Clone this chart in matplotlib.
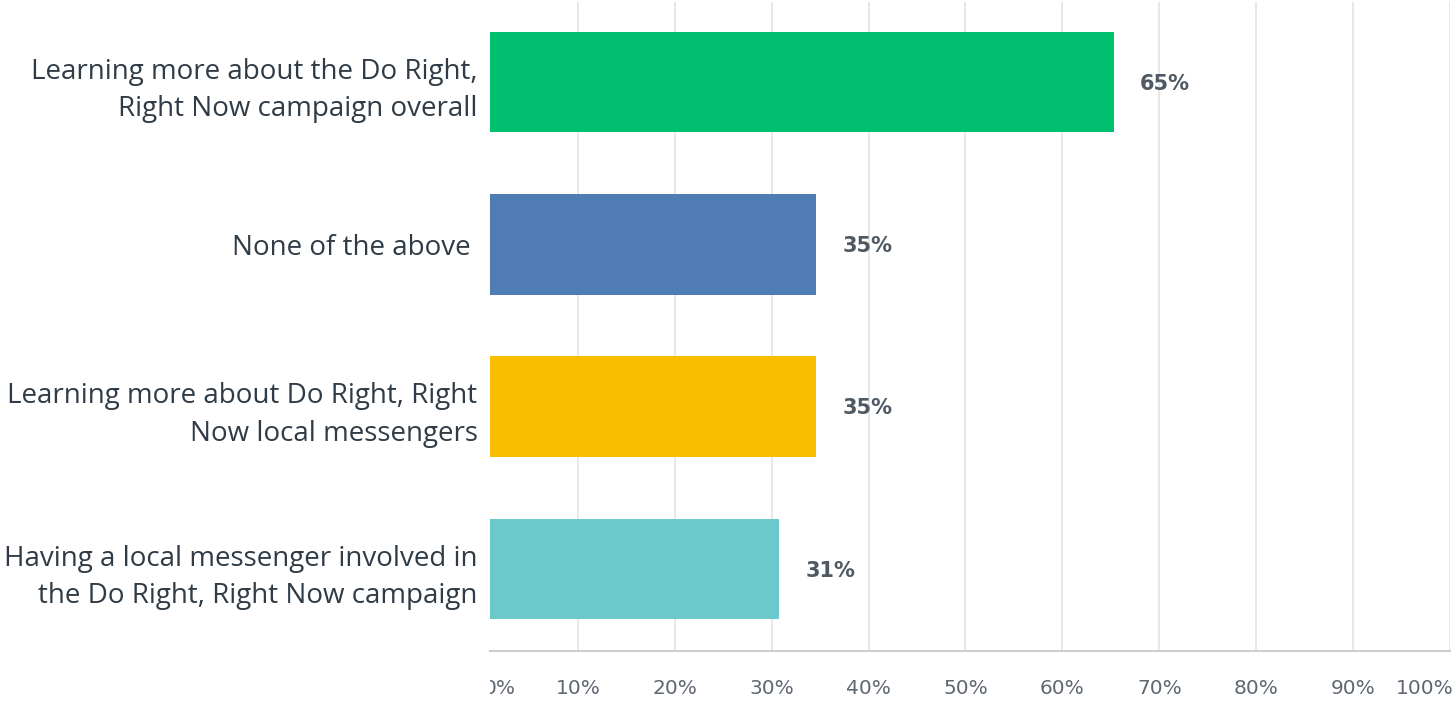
import matplotlib
matplotlib.use("Agg")
import matplotlib.pyplot as plt
from matplotlib.transforms import Bbox, blended_transform_factory

categories = [
    "Learning more about the Do Right,\nRight Now campaign overall",
    "None of the above ",
    "Learning more about Do Right, Right\nNow local messengers",
    "Having a local messenger involved in\nthe Do Right, Right Now campaign",
]
values = [65.3, 34.6, 34.6, 30.8]
value_labels = ["65%", "35%", "35%", "31%"]
colors = ["#00BF6F", "#507CB6", "#F9BE00", "#6BC9CC"]
ticks = [0, 10, 20, 30, 40, 50, 60, 70, 80, 90, 100]
tick_labels = ["0%", "10%", "20%", "30%", "40%", "50%", "60%", "70%", "80%", "90%", "100%"]

W, H = 1452, 701
fig = plt.figure(figsize=(W / 100, H / 100), dpi=100)
left, right, top, bottom = 490, 1450, 2, 651
ax = fig.add_axes([left / W, 1 - bottom / H, (right - left) / W, (bottom - top) / H])

x0 = 0.93
ax.set_xlim(x0, 100)
ax.set_ylim(3.505, -0.493)

y = list(range(len(categories)))
ax.barh(y, values, height=0.62, color=colors, zorder=2)

for yi, v, lab in zip(y, values, value_labels):
    ax.text(v + 2.7, yi + 0.01, lab, va="center", ha="left", fontsize=15,
            color="#4f5963", family="DejaVu Sans", fontweight="bold", zorder=3)

ax.set_yticks(y)
ax.set_yticklabels(categories, fontsize=20, color="#2f3b46", family="Open Sans",
                   linespacing=1.45, ha="right")
ax.tick_params(axis="y", length=0, pad=9)

ax.set_xticks(ticks[1:])
ax.set_xticklabels([])
ax.tick_params(axis="x", length=0)
ax.grid(axis="x", color="#e6e6e6", linewidth=1.3, zorder=0)

for s in ["top", "right", "left"]:
    ax.spines[s].set_visible(False)
ax.spines["bottom"].set_color("#cfcfcf")
ax.spines["bottom"].set_linewidth(1.5)

# tick labels (first and last are nudged inward, as in the original)
shift = {0: 1.9, 100: -2.6}
trans = blended_transform_factory(ax.transData, fig.transFigure)
clip = Bbox.from_extents(left, 0, W, H)
for t, lab in zip(ticks, tick_labels):
    txt = ax.text(t + shift.get(t, 0), 1 - 689 / H, lab, transform=trans, ha="center",
                  va="center", fontsize=14.5, color="#5f6872", family="DejaVu Sans",
                  clip_on=True)
    txt.set_clip_box(clip)

fig.savefig("out.png", dpi=100, facecolor="white")
